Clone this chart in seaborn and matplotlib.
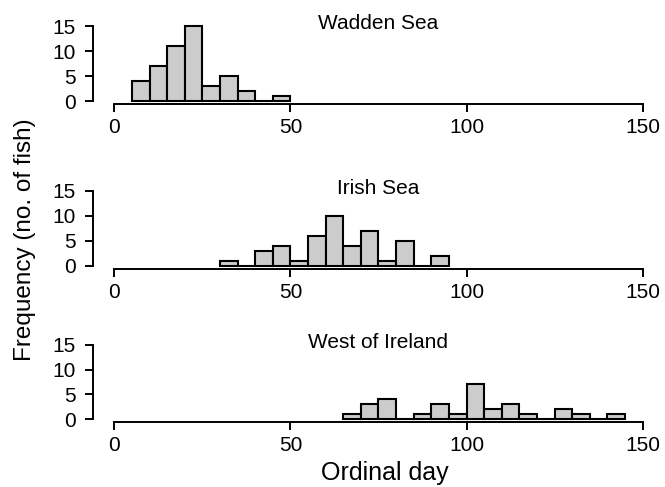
import numpy as np
import pandas as pd
import matplotlib
matplotlib.use("Agg")
import matplotlib.pyplot as plt
import seaborn as sns

# ---- data (5-day bins, value = left edge of bin) ----
wadden_days = [5, 10, 15, 20, 25, 30, 35, 40, 45]
wadden_counts = [4, 7, 11, 15, 3, 5, 2, 0, 1]

irish_days = [30, 35, 40, 45, 50, 55, 60, 65, 70, 75, 80, 85, 90]
irish_counts = [1, 0, 3, 4, 1, 6, 10, 4, 7, 1, 5, 0, 2]

west_days = [65, 70, 75, 80, 85, 90, 95, 100, 105, 110, 115, 120, 125, 130, 135, 140]
west_counts = [1, 3, 4, 0, 1, 3, 1, 7, 2, 3, 1, 0, 2, 1, 0, 1]

region_names = ["Wadden Sea", "Irish Sea", "West of Ireland"]
x_ticks = [0, 50, 100, 150]
y_ticks = [0, 5, 10, 15]
bin_width = 5

sns.set_style("ticks")
plt.rcParams["font.family"] = ["Liberation Sans", "DejaVu Sans"]
plt.rcParams["text.color"] = "black"
plt.rcParams["axes.labelcolor"] = "black"

W, H = 665, 487
fig = plt.figure(figsize=(W / 100, H / 100), dpi=100)

# axes placement in pixels (top, bottom)
panels_px = [(23.0, 104.5), (187.7, 269.0), (342.0, 422.0)]
left_px, right_px = 93.2, 663.8

datasets = [(wadden_days, wadden_counts), (irish_days, irish_counts), (west_days, west_counts)]

for (top, bot), (days, counts), name in zip(panels_px, datasets, region_names):
    ax = fig.add_axes([left_px / W, 1 - bot / H, (right_px - left_px) / W, (bot - top) / H])
    df = pd.DataFrame({"day": [d + bin_width / 2 for d in days], "n": counts})
    edges = list(days) + [days[-1] + bin_width]
    sns.histplot(data=df, x="day", weights="n", bins=edges, ax=ax,
                 color="#cccccc", edgecolor="black", linewidth=1.5, alpha=1)
    ax.set_xlim(-6, 156)
    ax.set_ylim(-0.6, 15.6)
    ax.set_xticks(x_ticks)
    ax.set_yticks(y_ticks)
    ax.set_xlabel("")
    ax.set_ylabel("")
    for s in ["top", "right"]:
        ax.spines[s].set_visible(False)
    ax.spines["left"].set_bounds(0, 15)
    ax.spines["bottom"].set_bounds(0, 150)
    for s in ["left", "bottom"]:
        ax.spines[s].set_linewidth(1.4)
        ax.spines[s].set_color("black")
    ax.tick_params(axis="both", direction="out", length=5.5, width=1.4, labelsize=15, colors="black")
    ax.tick_params(axis="y", pad=7)
    ax.tick_params(axis="x", pad=4.5)
    ax.patch.set_alpha(0)
    ax.text(0.5, 1 - 5.8 / (bot - top), name, transform=ax.transAxes,
            ha="center", va="baseline", fontsize=15, color="black")

fig.text(385 / W, 1 - 480 / H, "Ordinal day", ha="center", va="baseline", fontsize=18, color="black")
fig.text(25 / W, 1 - 240 / H, "Frequency (no. of fish)", ha="center", va="center",
         rotation=90, fontsize=17.5, color="black")

fig.savefig("out.png", dpi=100)
